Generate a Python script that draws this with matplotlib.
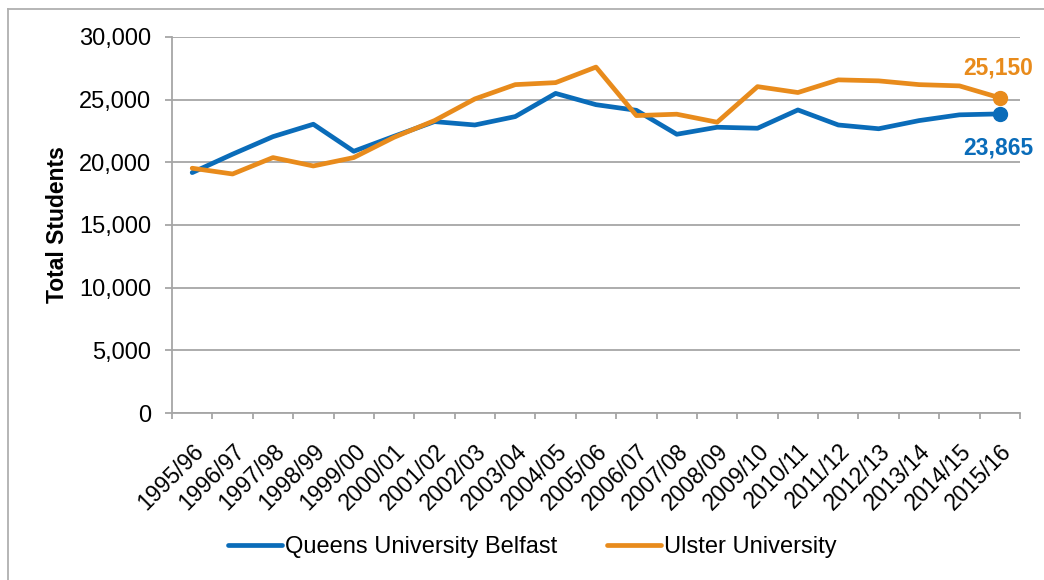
import matplotlib
matplotlib.use("Agg")
import matplotlib.pyplot as plt
from matplotlib.lines import Line2D
from matplotlib.ticker import FuncFormatter, FixedLocator

plt.rcParams['font.family'] = ['Liberation Sans', 'DejaVu Sans']

years = ["1995/96", "1996/97", "1997/98", "1998/99", "1999/00", "2000/01", "2001/02",
         "2002/03", "2003/04", "2004/05", "2005/06", "2006/07", "2007/08", "2008/09",
         "2009/10", "2010/11", "2011/12", "2012/13", "2013/14", "2014/15", "2015/16"]
queens = [19180, 20650, 22050, 23040, 20880, 22080, 23250, 22980, 23650, 25500, 24600,
          24150, 22240, 22800, 22720, 24180, 22980, 22680, 23330, 23790, 23865]
ulster = [19530, 19070, 20380, 19710, 20380, 22000, 23330, 25060, 26200, 26360, 27600,
          23730, 23840, 23200, 26040, 25570, 26580, 26500, 26200, 26100, 25150]

blue = '#0A6CB9'
orange = '#E88B1C'
grid_c = '#A6A6A6'

W, H = 1044, 580
fig = plt.figure(figsize=(W / 100, H / 100), dpi=100)
ax = fig.add_axes([172/W, 1 - 413/H, (1020-172)/W, (413-37)/H])

x = list(range(len(years)))
ax.plot(x, queens, color=blue, lw=3.4, label='Queens University Belfast', solid_capstyle='round')
ax.plot(x, ulster, color=orange, lw=3.4, label='Ulster University', solid_capstyle='round')
ax.plot(x[-1], queens[-1], 'o', color=blue, ms=10)
ax.plot(x[-1], ulster[-1], 'o', color=orange, ms=10)

ax.annotate(f"{ulster[-1]:,}", (x[-1], ulster[-1]), xytext=(-1, 17), textcoords='offset points',
            ha='center', va='baseline', color=orange, fontsize=16.5, fontweight='bold')
ax.annotate(f"{queens[-1]:,}", (x[-1], queens[-1]), xytext=(-1, -29), textcoords='offset points',
            ha='center', va='baseline', color=blue, fontsize=16.5, fontweight='bold')

ax.set_xlim(-0.5, len(years) - 0.5)
ax.set_ylim(0, 30000)
ax.set_yticks(range(0, 30001, 5000))
ax.yaxis.set_major_formatter(FuncFormatter(lambda v, p: f"{int(v):,}"))
ax.yaxis.grid(True, color=grid_c, lw=1.3)
ax.set_axisbelow(True)

ax.xaxis.set_major_locator(FixedLocator([i - 0.5 for i in range(len(years) + 1)]))
ax.xaxis.set_major_formatter(FuncFormatter(lambda v, p: ""))
ax.xaxis.set_minor_locator(FixedLocator(x))
ax.set_xticklabels(years, minor=True, rotation=45, ha='right', va='top', rotation_mode='anchor')
ax.tick_params(axis='x', which='minor', length=0, pad=19, labelsize=16.5)
ax.tick_params(axis='x', which='major', length=4.5, color=grid_c, width=1.3, direction='out')
ax.tick_params(axis='y', length=5, color=grid_c, width=1.3, labelsize=17, pad=10)

for s in ['top', 'right']:
    ax.spines[s].set_visible(False)
for s in ['left', 'bottom']:
    ax.spines[s].set_color(grid_c)
    ax.spines[s].set_linewidth(1.3)

ax.set_ylabel("Total Students", fontsize=16.5, fontweight='bold')
ax.yaxis.set_label_coords(69/W, 1 - 225/H, transform=fig.transFigure)

fig.legend(loc='center', bbox_to_anchor=(532/W, 1 - 547/H), ncol=2, frameon=False,
           fontsize=17, handlelength=2.3, handletextpad=0.12, columnspacing=2.1)

# outer frame (top and left edges visible)
fig.add_artist(Line2D([8/W, 8/W], [0, 1 - 9/H], transform=fig.transFigure, color='#B0B0B0', lw=1.3))
fig.add_artist(Line2D([8/W, 1], [1 - 9/H, 1 - 9/H], transform=fig.transFigure, color='#B0B0B0', lw=1.3))

fig.savefig("out.png", dpi=100)
